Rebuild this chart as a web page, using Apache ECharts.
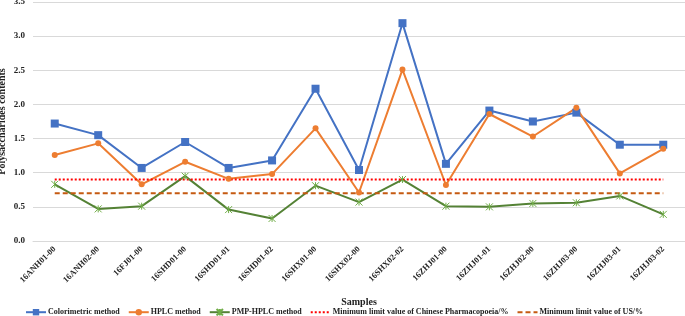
<!DOCTYPE html>
<html><head><meta charset="utf-8">
<script src="https://cdn.jsdelivr.net/npm/echarts@6/dist/echarts.min.js"></script>
<style>html,body{margin:0;padding:0;background:#fff}#c{width:685px;height:316px}</style>
</head><body><div id="c"></div>
<script>
const categories = ['16ANH01-00','16ANH02-00','16FJ01-00','16SHD01-00','16SHD01-01','16SHD01-02','16SHX01-00','16SHX02-00','16SHX02-02','16ZHJ01-00','16ZHJ01-01','16ZHJ02-00','16ZHJ03-00','16ZHJ03-01','16ZHJ03-02'];
const colorimetric = [1.72,1.55,1.07,1.45,1.07,1.18,2.23,1.04,3.19,1.13,1.91,1.75,1.88,1.41,1.41];
const hplc = [1.26,1.43,0.83,1.16,0.91,0.98,1.65,0.71,2.51,0.82,1.86,1.53,1.95,0.99,1.35];
const pmpHplc = [0.83,0.47,0.51,0.95,0.46,0.33,0.81,0.57,0.90,0.51,0.50,0.55,0.56,0.66,0.39];
const chinaLimit = 0.9;
const usLimit = 0.7;

const font = '"Liberation Serif","Times New Roman",serif';
const starPath = 'path://M0,0L10,10M10,0L0,10M5,0L5,10';
const chart = echarts.init(document.getElementById('c'));
chart.setOption({
  animation:false,
  textStyle:{fontFamily:font},
  grid:{left:33,right:0,top:2,bottom:75,containLabel:false,outerBoundsMode:'none'},
  legend:{
    top:303,left:20,itemWidth:20,itemHeight:8,itemGap:8,
    textStyle:{fontFamily:font,fontWeight:'bold',fontSize:8,color:'#222',padding:[0,0,0,-3]},
    data:[
      {name:'Colorimetric method'},
      {name:'HPLC method'},
      {name:'PMP-HPLC method'},
      {name:'Minimum limit value of Chinese Pharmacopoeia/%',itemStyle:{opacity:0}},
      {name:'Minimum limit value of US/%',itemStyle:{opacity:0}}
    ]
  },
  xAxis:{
    type:'category',data:categories,boundaryGap:true,
    name:'Samples',nameLocation:'middle',nameGap:56,nameMoveOverlap:false,
    nameTextStyle:{fontFamily:font,fontWeight:'bold',fontSize:10,color:'#222'},
    axisLine:{show:true,lineStyle:{color:'#d9d9d9'}},axisTick:{show:false},
    axisLabel:{rotate:45,interval:0,fontFamily:font,fontWeight:'bold',fontSize:8.5,color:'#222',margin:7}
  },
  yAxis:{
    type:'value',min:0,max:3.5,interval:0.5,
    name:'Polysaccharides contents',nameLocation:'middle',nameGap:26,nameMoveOverlap:false,
    nameTextStyle:{fontFamily:font,fontWeight:'bold',fontSize:10,color:'#222'},
    axisLine:{show:false},axisTick:{show:false},
    splitLine:{lineStyle:{color:'#d9d9d9',width:1}},
    axisLabel:{formatter:v=>v.toFixed(1),fontFamily:font,fontWeight:'bold',fontSize:9,color:'#222',margin:8}
  },
  series:[
    {name:'Colorimetric method',type:'line',data:colorimetric,color:'#4472C4',lineStyle:{width:2,color:'#4472C4'},symbol:'rect',symbolSize:8,itemStyle:{color:'#4472C4'}},
    {name:'HPLC method',type:'line',data:hplc,color:'#ED7D31',lineStyle:{width:2,color:'#ED7D31'},symbol:'circle',symbolSize:6,itemStyle:{color:'#ED7D31'}},
    {name:'PMP-HPLC method',type:'line',data:pmpHplc,color:'#548235',lineStyle:{width:2,color:'#548235'},symbol:starPath,symbolSize:7,itemStyle:{color:'#70AD47',borderColor:'#70AD47',borderWidth:1}},
    {name:'Minimum limit value of Chinese Pharmacopoeia/%',type:'line',data:categories.map(()=>chinaLimit),color:'#FF0000',symbol:'none',lineStyle:{width:2,type:[2,2],color:'#FF0000'}},
    {name:'Minimum limit value of US/%',type:'line',data:categories.map(()=>usLimit),color:'#C55A11',symbol:'none',lineStyle:{width:2,type:[5,3],color:'#C55A11'}}
  ]
});
</script></body></html>
